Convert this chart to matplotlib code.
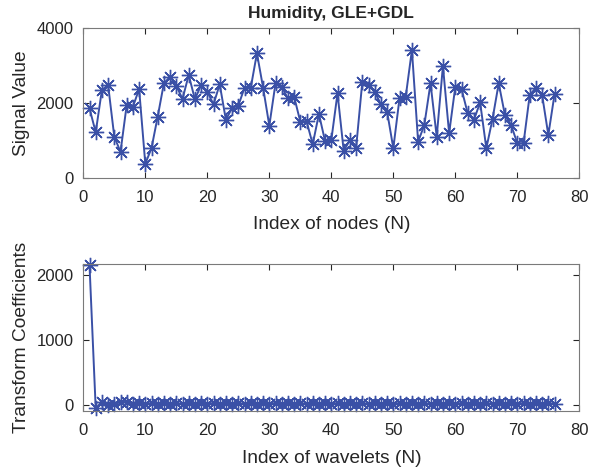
import matplotlib
matplotlib.use("Agg")
import matplotlib.pyplot as plt
import numpy as np

plt.rcParams['font.family'] = ['Liberation Sans', 'DejaVu Sans']

title = "Humidity, GLE+GDL"
top_xlabel = "Index of nodes (N)"
top_ylabel = "Signal Value"
bot_xlabel = "Index of wavelets (N)"
bot_ylabel = "Transform Coefficients"

signal = [1850, 1210, 2340, 2470, 1090, 690, 1940, 1890, 2365, 370,
          790, 1630, 2520, 2690, 2450, 2100, 2740, 2090, 2472, 2294,
          1957, 2490, 1539, 1867, 1920, 2400, 2390, 3318, 2400, 1387,
          2517, 2427, 2117, 2160, 1493, 1512, 890, 1700, 970, 1005,
          2251, 712, 1005, 800, 2560, 2472, 2294, 1957, 1760, 784,
          2117, 2160, 3406, 960, 1405, 2517, 1093, 2980, 1184, 2427,
          2365, 1717, 1539, 2010, 784, 1565, 2517, 1672, 1405, 916,
          916, 2205, 2400, 2205, 1139, 2224]

coeffs = [2154, -60, 45, -10, 10, 35, 40, 15, 25, 5,
          25, 5, 25, 5, 25, 5, 25, 5, 25, 5,
          25, 5, 25, 5, 25, 5, 25, 5, 25, 5,
          25, 5, 25, 5, 25, 5, 25, 5, 25, 5,
          25, 5, 25, 5, 25, 5, 25, 5, 25, 5,
          25, 5, 25, 5, 25, 5, 25, 5, 25, 5,
          25, 5, 25, 5, 25, 5, 25, 5, 25, 5,
          25, 5, 25, 5, 25, 5]

x = np.arange(1, len(signal) + 1)
xc = np.arange(1, len(coeffs) + 1)

line_color = '#3a50a6'
text_color = '#262626'
spine_color = '#7a7a7a'
asterisk = (8, 2, 0)

fig = plt.figure(figsize=(5.90, 4.71), dpi=100)
ax1 = fig.add_axes([0.1412, 0.6227, 0.8407, 0.3185])
ax2 = fig.add_axes([0.1412, 0.1274, 0.8407, 0.3121])

for ax in (ax1, ax2):
    for s in ax.spines.values():
        s.set_color(spine_color)
        s.set_linewidth(0.8)
    ax.tick_params(direction='in', top=True, right=True, length=4,
                   color=text_color, labelcolor=text_color, labelsize=12)
    ax.tick_params(axis='x', pad=9)
    ax.tick_params(axis='y', pad=7)
    ax.set_xlim(0, 80)
    ax.set_xticks(range(0, 81, 10))

ax1.plot(x, signal, color=line_color, marker=asterisk, markersize=11,
         markeredgewidth=1.0, linewidth=1.4, clip_on=False)
ax1.set_ylim(0, 4000)
ax1.set_yticks([0, 2000, 4000])
ax1.set_title(title, fontsize=12.5, fontweight='bold', color=text_color, pad=7)
ax1.set_xlabel(top_xlabel, fontsize=13.8, color=text_color, labelpad=8)
ax1.set_ylabel(top_ylabel, fontsize=13.8, color=text_color, labelpad=5)

ax2.plot(xc, coeffs, color=line_color, marker=asterisk, markersize=11,
         markeredgewidth=1.0, linewidth=1.4, clip_on=False)
ax2.set_ylim(-100, 2170)
ax2.set_yticks([0, 1000, 2000])
ax2.set_xlabel(bot_xlabel, fontsize=13.8, color=text_color, labelpad=8)
ax2.set_ylabel(bot_ylabel, fontsize=13.8, color=text_color, labelpad=5)

fig.savefig("out.png", dpi=100)
